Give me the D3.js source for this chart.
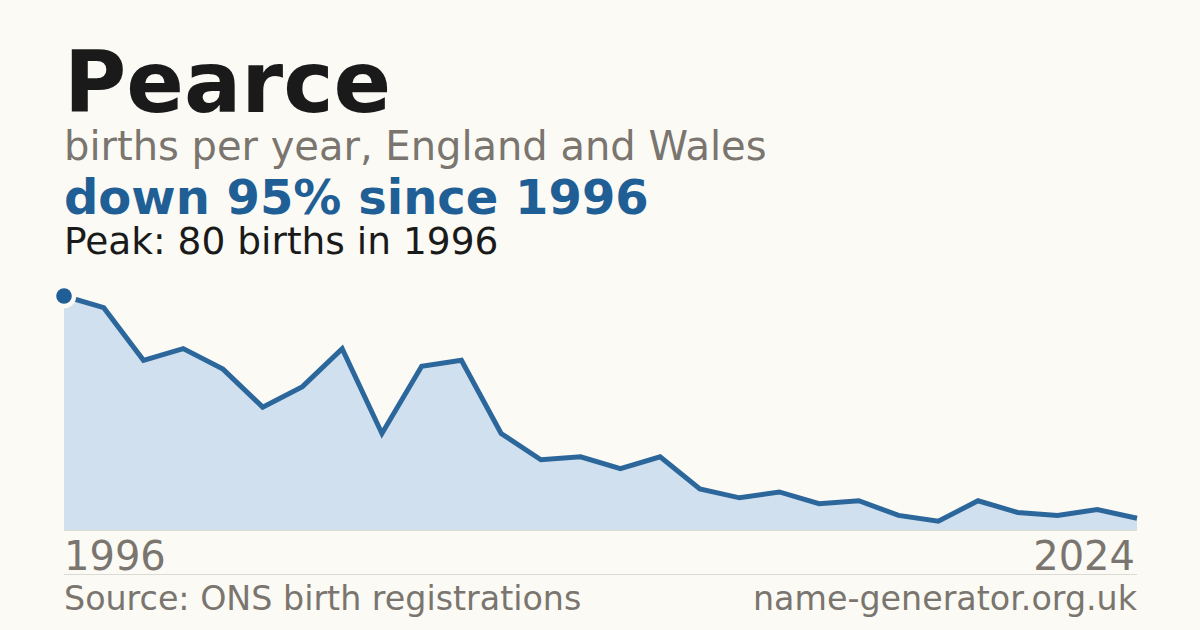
<!DOCTYPE html>
<html>
<head>
<meta charset="utf-8">
<script src="https://cdn.jsdelivr.net/npm/d3@7"></script>
<style>
  html, body { margin: 0; padding: 0; background: #fbfaf5; }
  svg { display: block; font-family: 'DejaVu Sans', sans-serif; }
</style>
</head>
<body>
<svg id="chart" width="1200" height="630"></svg>
<script>
// births per year, 1996 -> 2024
var births = [80, 76, 58, 62, 55, 42, 49, 62, 33, 56, 58, 33, 24, 25, 21, 25,
              14, 11, 13, 9, 10, 5, 3, 10, 6, 5, 7, 4]
var tickLabels = ['1996', '2024']
var titleText = 'Pearce'
var subtitleText = 'births per year, England and Wales'
var changeText = 'down 95% since 1996'
var peakText = 'Peak: 80 births in 1996'
var sourceText = 'Source: ONS birth registrations'
var siteText = 'name-generator.org.uk'

var blue = '#1f5f96'
var grey = '#7a756e'
var bg = '#fbfaf5'

var svg = d3.select('#chart')
var plot = { left: 64, right: 1137, top: 296, bottom: 530 }

svg.append('rect').attr('width', 1200).attr('height', 630).attr('fill', bg)

var x = d3.scaleLinear()
          .domain([0, births.length - 1])
          .range([plot.left, plot.right])
var y = d3.scaleLinear()
          .domain([0, d3.max(births)])
          .range([plot.bottom, plot.top])

var area = d3.area()
             .x(function(d, i) { return x(i) })
             .y0(plot.bottom)
             .y1(function(d) { return y(d) })
var line = d3.line()
             .x(function(d, i) { return x(i) })
             .y(function(d) { return y(d) })

svg.append('path')
   .datum(births)
   .attr('d', area)
   .attr('fill', '#d0e0ef')

svg.append('line')
   .attr('x1', plot.left).attr('x2', plot.right)
   .attr('y1', plot.bottom + 0.5).attr('y2', plot.bottom + 0.5)
   .attr('stroke', '#dcdad4')
   .attr('stroke-width', 1)

svg.append('path')
   .datum(births)
   .attr('d', line)
   .attr('fill', 'none')
   .attr('stroke', '#2c679c')
   .attr('stroke-width', 5)
   .attr('stroke-linejoin', 'miter')

// peak marker
var peakIdx = births.indexOf(d3.max(births))
svg.append('circle')
   .attr('cx', x(peakIdx))
   .attr('cy', y(births[peakIdx]))
   .attr('r', 7.8)
   .attr('fill', blue)
   .attr('stroke', bg)
   .attr('stroke-width', 9)
   .attr('paint-order', 'stroke')

// header
svg.append('text').attr('x', 64).attr('y', 112)
   .attr('font-size', 85).attr('font-weight', 'bold').attr('fill', '#1a1a1a')
   .text(titleText)
svg.append('text').attr('x', 64).attr('y', 160)
   .attr('font-size', 40).attr('fill', grey)
   .text(subtitleText)
svg.append('text').attr('x', 64).attr('y', 214)
   .attr('font-size', 48).attr('font-weight', 'bold').attr('fill', blue)
   .text(changeText)
svg.append('text').attr('x', 64).attr('y', 254)
   .attr('font-size', 37.5).attr('fill', '#1a1a1a')
   .text(peakText)

// x labels
svg.append('text').attr('x', plot.left).attr('y', 570)
   .attr('font-size', 40).attr('fill', grey)
   .text(tickLabels[0])
svg.append('text').attr('x', plot.right - 2).attr('y', 570)
   .attr('font-size', 40).attr('fill', grey).attr('text-anchor', 'end')
   .text(tickLabels[1])

// footer
svg.append('line')
   .attr('x1', plot.left).attr('x2', plot.right)
   .attr('y1', 574.5).attr('y2', 574.5)
   .attr('stroke', '#dcdad4')
   .attr('stroke-width', 1)
svg.append('text').attr('x', plot.left).attr('y', 610)
   .attr('font-size', 33.3).attr('fill', grey)
   .text(sourceText)
svg.append('text').attr('x', plot.right).attr('y', 610)
   .attr('font-size', 33.3).attr('fill', grey).attr('text-anchor', 'end')
   .text(siteText)
</script>
</body>
</html>
